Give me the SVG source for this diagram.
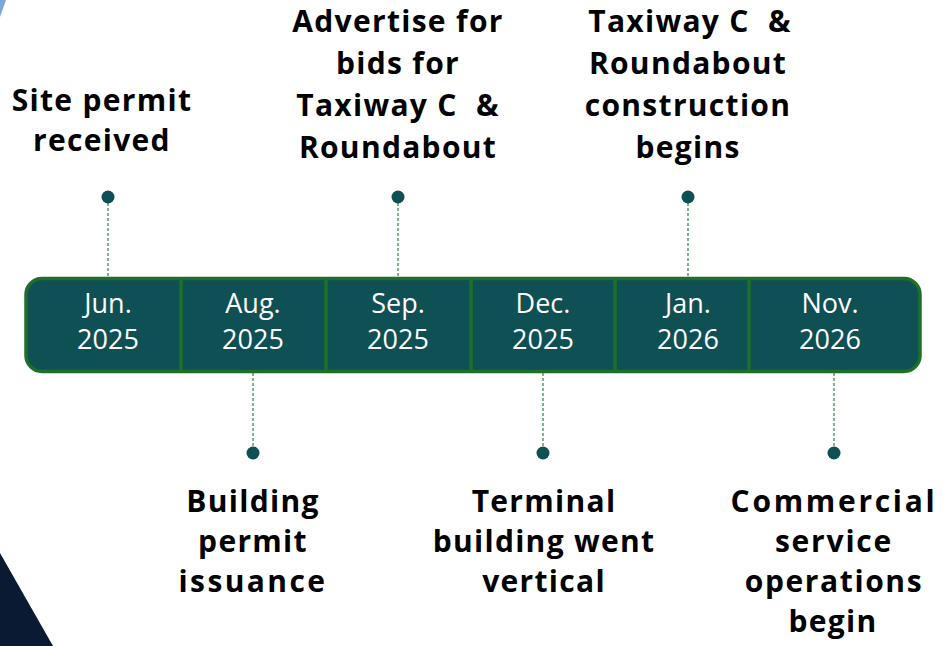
<svg xmlns="http://www.w3.org/2000/svg" width="943" height="646" viewBox="0 0 943 646">
<style>
.lbl{font-family:"Open Sans","Liberation Sans",sans-serif;font-weight:700;font-size:30px;letter-spacing:1.3px;fill:#000;text-anchor:middle;white-space:pre}
.mon{font-family:"Open Sans","Liberation Sans",sans-serif;font-size:27px;fill:#fff;text-anchor:middle}
.dot{fill:#0f5055}
.con{stroke:#3c8c4c;stroke-width:1.3;stroke-dasharray:3 2;fill:none}
.div{stroke:#1f6e2a;stroke-width:3.5}
</style>
<rect width="943" height="646" fill="#fff"/>
<polygon points="0,0 6,0 0,17" fill="#7aa6d8"/>
<polygon points="0,553 53,646 0,646" fill="#0b1a33"/>
<g id="connectors">
<line class="con" x1="108" y1="203" x2="108" y2="277"/>
<line class="con" x1="398" y1="203" x2="398" y2="277"/>
<line class="con" x1="688" y1="203" x2="688" y2="277"/>
<line class="con" x1="253" y1="373" x2="253" y2="446"/>
<line class="con" x1="543" y1="373" x2="543" y2="446"/>
<line class="con" x1="834" y1="373" x2="834" y2="446"/>
</g>
<g id="bar">
<rect x="26" y="278.5" width="894" height="93" rx="16" fill="#0f5055" stroke="#1f6e2a" stroke-width="3.5"/>
<line class="div" x1="181" y1="278" x2="181" y2="372"/>
<line class="div" x1="326" y1="278" x2="326" y2="372"/>
<line class="div" x1="471" y1="278" x2="471" y2="372"/>
<line class="div" x1="615" y1="278" x2="615" y2="372"/>
<line class="div" x1="749" y1="278" x2="749" y2="372"/>
</g>
<g id="m-jun"><text class="mon" x="108" y="313">Jun.</text><text class="mon" x="108" y="349">2025</text></g>
<g id="m-aug"><text class="mon" x="253" y="313">Aug.</text><text class="mon" x="253" y="349">2025</text></g>
<g id="m-sep"><text class="mon" x="398" y="313">Sep.</text><text class="mon" x="398" y="349">2025</text></g>
<g id="m-dec"><text class="mon" x="543" y="313">Dec.</text><text class="mon" x="543" y="349">2025</text></g>
<g id="m-jan"><text class="mon" x="688" y="313">Jan.</text><text class="mon" x="688" y="349">2026</text></g>
<g id="m-nov"><text class="mon" x="830" y="313">Nov.</text><text class="mon" x="830" y="349">2026</text></g>
<g id="e-site"><circle class="dot" cx="108" cy="197" r="6.5"/><text class="lbl" x="102" y="111">Site permit</text><text class="lbl" x="102" y="151">received</text></g>
<g id="e-adv"><circle class="dot" cx="398" cy="197" r="6.5"/><text class="lbl" x="398" y="32">Advertise for</text><text class="lbl" x="398" y="74">bids for</text><text class="lbl" x="398" y="116">Taxiway C  &amp;</text><text class="lbl" x="398" y="158">Roundabout</text></g>
<g id="e-twy"><circle class="dot" cx="688" cy="197" r="6.5"/><text class="lbl" x="690" y="32">Taxiway C  &amp;</text><text class="lbl" x="688" y="74">Roundabout</text><text class="lbl" x="688" y="116">construction</text><text class="lbl" x="688" y="158">begins</text></g>
<g id="e-bld"><circle class="dot" cx="253" cy="453" r="6.5"/><text class="lbl" x="253" y="512">Building</text><text class="lbl" x="253" y="552">permit</text><text class="lbl" x="253" y="592" style="letter-spacing:2.4px">issuance</text></g>
<g id="e-trm"><circle class="dot" cx="543" cy="453" r="6.5"/><text class="lbl" x="544" y="512">Terminal</text><text class="lbl" x="544" y="552">building went</text><text class="lbl" x="544" y="592">vertical</text></g>
<g id="e-com"><circle class="dot" cx="834" cy="453" r="6.5"/><text class="lbl" x="834" y="512" style="letter-spacing:2.7px">Commercial</text><text class="lbl" x="834" y="552" style="letter-spacing:1.8px">service</text><text class="lbl" x="834" y="592" style="letter-spacing:1.6px">operations</text><text class="lbl" x="833" y="632">begin</text></g>
</svg>
